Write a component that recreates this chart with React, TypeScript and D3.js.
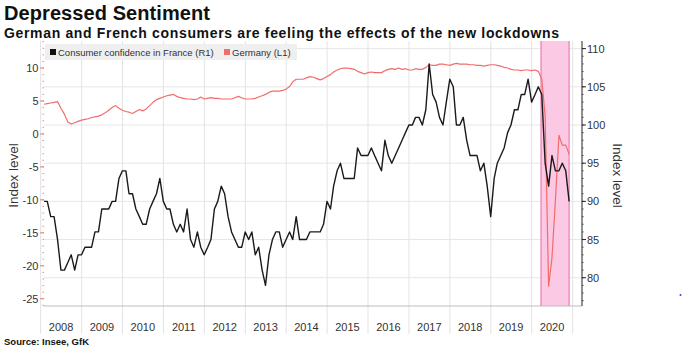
import React from 'react'
import * as d3 from 'd3'

// monthly, Jan 2008 .. Nov 2020 (month-end)
const france = [
  90, 90, 88, 88, 85, 81, 81, 82, 83, 81,
  83, 83, 84, 84, 84, 86, 86, 89, 89, 89,
  90, 90, 93, 94, 94, 91, 91, 89, 88, 87,
  87, 89, 90, 91, 93, 90, 89, 89, 87, 86,
  87, 86, 89, 85, 84, 86, 84, 83, 84, 85,
  89, 90, 92, 91, 88, 86, 85, 84, 84, 86,
  85, 86, 83, 84, 81, 79, 83, 85, 86, 86,
  84, 85, 86, 85, 88, 85, 85, 85, 86, 86,
  86, 86, 87, 90, 89, 92, 94, 95, 93, 93,
  93, 93, 97, 96, 96, 96, 97, 96, 95, 94,
  98, 96, 95, 96, 97, 98, 99, 100, 100, 101,
  101, 100, 102, 108, 104, 103, 101, 100, 103, 106,
  105, 100, 100, 101, 98, 96, 96, 96, 94, 95,
  92, 88, 93, 95, 96, 97, 99, 100, 102, 102,
  104, 104, 106, 103, 104, 105, 104, 95, 92, 96,
  94, 94, 95, 94, 90
]

const germany = [
  4.5, 4.6, 4.7, 4.8, 4.9, 3.9, 3.0, 1.8, 1.5, 1.7,
  1.9, 2.1, 2.2, 2.3, 2.5, 2.6, 2.7, 2.9, 3.2, 3.6,
  4.0, 4.3, 3.9, 3.6, 3.4, 3.3, 3.1, 3.4, 3.7, 3.5,
  3.8, 4.3, 4.8, 5.2, 5.4, 5.6, 5.8, 5.9, 6.0, 5.7,
  5.5, 5.4, 5.3, 5.3, 5.2, 5.3, 5.6, 5.3, 5.4, 5.5,
  5.4, 5.4, 5.3, 5.3, 5.3, 5.3, 5.5, 5.7, 5.5, 5.3,
  5.3, 5.3, 5.4, 5.6, 5.8, 6.0, 6.3, 6.5, 6.5, 6.5,
  6.6, 6.8, 7.2, 7.9, 8.3, 8.3, 8.3, 8.5, 8.7, 8.6,
  8.4, 8.2, 8.4, 8.7, 9.0, 9.4, 9.7, 9.9, 10.0, 10.0,
  9.9, 9.8, 9.5, 9.3, 9.1, 9.3, 9.4, 9.3, 9.3, 9.3,
  9.6, 9.8, 9.9, 9.8, 10.0, 9.8, 9.9, 9.7, 9.7, 9.9,
  9.8, 9.8, 10.1, 10.5, 10.4, 10.4, 10.6, 10.6, 10.5, 10.4,
  10.6, 10.7, 10.6, 10.6, 10.6, 10.5, 10.5, 10.4, 10.4, 10.3,
  10.4, 10.5, 10.5, 10.4, 10.3, 10.1, 10.0, 9.8, 9.7, 9.7,
  9.6, 9.7, 9.7, 9.6, 9.7, 9.5, 8.3, 2.7, -23.1, -18.8,
  -10.0, -0.2, -1.7, -1.7, -3.1
]

const years = [2008, 2009, 2010, 2011, 2012, 2013, 2014, 2015, 2016, 2017, 2018, 2019, 2020]
const leftTicks = [10, 5, 0, -5, -10, -15, -20, -25]
const rightTicks = [110, 105, 100, 95, 90, 85, 80]

const FONT = '"Liberation Sans", Arial, sans-serif'

export default function App() {
  const W = 682, H = 353
  const m = { left: 44, right: 582, top: 41, bottom: 306 }

  const dates = france.map((_, i) => new Date(2008, i + 1, 0))

  const x = d3.scaleTime()
    .domain([new Date(2008, 0, 31), new Date(2021, 2, 25)])
    .range([m.left, m.right])
  const yL = d3.scaleLinear().domain([-26.1, 14.1]).range([m.bottom, m.top])
  const yR = d3.scaleLinear().domain([76.3, 111]).range([m.bottom, m.top])

  const lineFr = d3.line<number>().x((d, i) => x(dates[i])).y(d => yR(d))
  const lineDe = d3.line<number>().x((d, i) => x(dates[i])).y(d => yL(d))

  const leftMinor = d3.range(-26, 15, 1)
  const rightMinor = d3.range(77, 111, 1)

  const shadeX0 = x(new Date(2020, 2, 24))
  const shadeX1 = x(new Date(2020, 10, 30))

  const bounds = years.concat([2021]).map(yr => x(new Date(yr, 0, 1)))

  return (
    <svg width={W} height={H} style={{ position: 'fixed', left: 0, top: 0, background: '#fff' }}
      fontFamily={FONT}>
      <rect width={W} height={H} fill="#fff" />

      <text x={4} y={20} fontSize={20} fontWeight="bold" fill="#111" textLength={206}>Depressed Sentiment</text>
      <text x={4} y={38} fontSize={14} fontWeight="bold" fill="#111" textLength={555}>
        German and French consumers are feeling the effects of the new lockdowns
      </text>

      {/* grid */}
      {rightTicks.map(t => (
        <line key={'hg' + t} x1={m.left} x2={m.right} y1={yR(t)} y2={yR(t)} stroke="#e6e6e6" strokeWidth={1} />
      ))}
      {bounds.map((bx, i) => (
        <line key={'vg' + i} x1={bx} x2={bx} y1={m.top} y2={334} stroke="#e3e3e3" strokeWidth={1} />
      ))}

      {/* shaded lockdown period */}
      <rect x={shadeX0} y={m.top} width={shadeX1 - shadeX0} height={m.bottom - m.top} fill="#fbc9e4" />
      <line x1={shadeX0} x2={shadeX0} y1={m.top} y2={m.bottom} stroke="#e46aa6" strokeWidth={1} />
      <line x1={shadeX1} x2={shadeX1} y1={m.top} y2={m.bottom} stroke="#e46aa6" strokeWidth={1} />

      {/* legend */}
      <rect x={45} y={44} width={252} height={16} fill="#efefef" />
      <rect x={50} y={49} width={6} height={6} fill="#111" />
      <text x={58} y={55.5} fontSize={9.5} fill="#333">Consumer confidence in France (R1)</text>
      <rect x={224} y={49} width={6} height={6} fill="#f26c6c" />
      <text x={232} y={55.5} fontSize={9.5} fill="#333">Germany (L1)</text>

      {/* series */}
      <path d={lineDe(germany) || ''} fill="none" stroke="#f26c6c" strokeWidth={1.2} strokeLinejoin="round" />
      <path d={lineFr(france) || ''} fill="none" stroke="#1a1a1a" strokeWidth={1.4} strokeLinejoin="round" />

      {/* bottom frame */}
      <line x1={m.left} x2={m.right} y1={m.bottom} y2={m.bottom} stroke="#bdbdbd" strokeWidth={1} />

      {/* left axis */}
      {leftMinor.map(t => (
        <line key={'lm' + t} x1={42.5} x2={44} y1={yL(t)} y2={yL(t)} stroke="#f08a8a" strokeWidth={1} />
      ))}
      {leftTicks.map(t => (
        <g key={'lt' + t}>
          <line x1={40} x2={44} y1={yL(t)} y2={yL(t)} stroke="#f07878" strokeWidth={1} />
          <text x={38.5} y={yL(t) + 4} fontSize={11} textAnchor="end" fill="#333">{t}</text>
        </g>
      ))}
      <text transform={`translate(18,${(m.top + m.bottom) / 2 + 2}) rotate(-90)`} fontSize={13.5}
        textAnchor="middle" fill="#333">Index level</text>

      {/* right axis */}
      <line x1={m.right} x2={m.right} y1={m.top} y2={m.bottom} stroke="#222" strokeWidth={1} />
      {rightMinor.map(t => (
        <line key={'rm' + t} x1={m.right} x2={m.right + 1.5} y1={yR(t)} y2={yR(t)} stroke="#444" strokeWidth={1} />
      ))}
      {rightTicks.map(t => (
        <g key={'rt' + t}>
          <line x1={m.right} x2={m.right + 4} y1={yR(t)} y2={yR(t)} stroke="#222" strokeWidth={1} />
          <text x={m.right + 5} y={yR(t) + 4} fontSize={11} fill="#333">{t}</text>
        </g>
      ))}
      <text transform={`translate(613,${(m.top + m.bottom) / 2 + 2}) rotate(90)`} fontSize={13.5}
        textAnchor="middle" fill="#333">Index level</text>

      {/* x axis labels */}
      {years.map(yr => (
        <text key={'y' + yr} x={x(new Date(yr, 6, 1))} y={331} fontSize={11} textAnchor="middle" fill="#333">{yr}</text>
      ))}

      <text x={4} y={345} fontSize={9.5} fontWeight="bold" fill="#111">Source: Insee, GfK</text>
      <circle cx={680.5} cy={295} r={1} fill="#3344cc" />
    </svg>
  )
}
